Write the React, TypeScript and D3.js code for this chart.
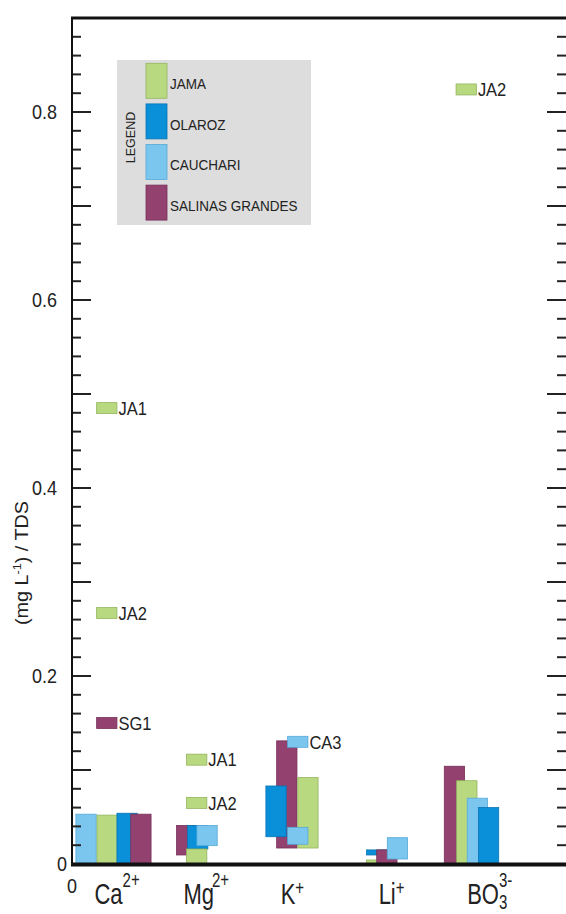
import React, { useEffect, useRef } from "react";
import * as d3 from "d3";

// ions on the x axis
const ions = ["Ca", "Mg", "K", "Li", "BO3"];
const ionLabels = [
  { base: "Ca", sub: "", sup: "2+", supRise: 17, nudge: 4 },
  { base: "Mg", sub: "", sup: "2+", supRise: 17, nudge: 0 },
  { base: "K", sub: "", sup: "+", supRise: 9, nudge: -7 },
  { base: "Li", sub: "", sup: "+", supRise: 9, nudge: -1 },
  { base: "BO", sub: "3", sup: "3-", supRise: 17, nudge: 4 },
];

// sites (legend order)
const sites = ["JA", "OL", "CA", "SG"];
const siteNames = ["JAMA", "OLAROZ", "CAUCHARI", "SALINAS GRANDES"];
const siteFill = ["#b8d97f", "#0a8fd9", "#7ac6ef", "#93426f"];
const siteStroke = ["#93b55f", "#0874b5", "#57a9d7", "#77305a"];

// floating bars: range lo..hi of (mg/L)/TDS, slot = offset from ion centre in bar widths
// listed in drawing order
const bars = [
  { ion: "Ca", site: "CA", lo: 0, hi: 0.053, slot: -1.83 },
  { ion: "Ca", site: "JA", lo: 0, hi: 0.052, slot: -0.79 },
  { ion: "Ca", site: "OL", lo: 0, hi: 0.054, slot: 0.19 },
  { ion: "Ca", site: "SG", lo: 0, hi: 0.053, slot: 0.87 },
  { ion: "Mg", site: "SG", lo: 0.0096, hi: 0.041, slot: -1.46 },
  { ion: "Mg", site: "OL", lo: 0.016, hi: 0.041, slot: -0.92 },
  { ion: "Mg", site: "JA", lo: 0, hi: 0.016, slot: -0.97 },
  { ion: "Mg", site: "CA", lo: 0.0195, hi: 0.041, slot: -0.46 },
  { ion: "K", site: "SG", lo: 0.017, hi: 0.131, slot: -1.12 },
  { ion: "K", site: "OL", lo: 0.029, hi: 0.083, slot: -1.65 },
  { ion: "K", site: "JA", lo: 0.017, hi: 0.092, slot: -0.08 },
  { ion: "K", site: "CA", lo: 0.021, hi: 0.039, slot: -0.58 },
  { ion: "Li", site: "OL", lo: 0.0096, hi: 0.015, slot: -1.28 },
  { ion: "Li", site: "JA", lo: 0, hi: 0.0043, slot: -1.28 },
  { ion: "Li", site: "SG", lo: 0.001, hi: 0.015, slot: -0.78 },
  { ion: "Li", site: "CA", lo: 0.0053, hi: 0.028, slot: -0.26 },
  { ion: "BO3", site: "SG", lo: 0, hi: 0.104, slot: -2.04 },
  { ion: "BO3", site: "JA", lo: 0, hi: 0.0886, slot: -1.43 },
  { ion: "BO3", site: "CA", lo: 0, hi: 0.07, slot: -0.91 },
  { ion: "BO3", site: "OL", lo: 0, hi: 0.06, slot: -0.36 },
];

// single samples off the bars
const outliers = [
  { ion: "Ca", site: "JA", value: 0.485, label: "JA1", slot: -0.81 },
  { ion: "Ca", site: "JA", value: 0.267, label: "JA2", slot: -0.81 },
  { ion: "Ca", site: "SG", value: 0.15, label: "SG1", slot: -0.81 },
  { ion: "Mg", site: "JA", value: 0.111, label: "JA1", slot: -0.97 },
  { ion: "Mg", site: "JA", value: 0.065, label: "JA2", slot: -0.97 },
  { ion: "K", site: "CA", value: 0.13, label: "CA3", slot: -0.58 },
  { ion: "BO3", site: "JA", value: 0.824, label: "JA2", slot: -1.46 },
];

const yLabels = [0.2, 0.4, 0.6, 0.8];

const FONT = "'Liberation Sans', Arial, Helvetica, sans-serif";
const W = 566;
const H = 914;

const App = () => {
  const svgRef = useRef(null);

  useEffect(() => {
    document.body.style.margin = "0";
    const svg = d3.select(svgRef.current);
    svg.selectAll("*").remove();

    const left = 72;
    const right = 566;
    const x = d3.scaleBand().domain(ions).range([66.5, 532.3]).padding(0);
    const y = d3.scaleLinear().domain([0, 0.9]).range([864, 18]);
    const bw = x.bandwidth() * 0.218;
    const cx = (ion: string) => (x(ion) as number) + x.bandwidth() / 2;
    const si = (s: string) => sites.indexOf(s);
    const sy = 1.15;

    // bars
    svg
      .append("g")
      .selectAll("rect")
      .data(bars)
      .join("rect")
      .attr("x", (d) => cx(d.ion) + d.slot * bw)
      .attr("y", (d) => y(d.hi))
      .attr("width", bw)
      .attr("height", (d) => y(d.lo) - y(d.hi))
      .attr("fill", (d) => siteFill[si(d.site)])
      .attr("stroke", (d) => siteStroke[si(d.site)])
      .attr("stroke-width", 0.8);

    // outliers
    const og = svg.append("g");
    og.selectAll("rect")
      .data(outliers)
      .join("rect")
      .attr("x", (d) => cx(d.ion) + d.slot * bw)
      .attr("y", (d) => y(d.value) - 5.5)
      .attr("width", bw)
      .attr("height", 11)
      .attr("fill", (d) => siteFill[si(d.site)])
      .attr("stroke", (d) => siteStroke[si(d.site)])
      .attr("stroke-width", 0.8);
    og.selectAll("text")
      .data(outliers)
      .join("text")
      .attr("transform", (d) => `translate(${cx(d.ion) + d.slot * bw + bw + 1.5},${y(d.value)}) scale(1,${sy})`)
      .attr("dy", "0.36em")
      .attr("font-family", FONT)
      .attr("font-size", 16.5)
      .attr("fill", "#222")
      .text((d) => d.label);

    // ticks
    const ticks = d3.range(1, 45).map((i) => ({ v: i * 0.02, major: i % 5 === 0 }));
    const tg = svg.append("g").attr("stroke", "#222").attr("stroke-width", 2);
    tg.selectAll("line.l")
      .data(ticks)
      .join("line")
      .attr("class", "l")
      .attr("x1", left)
      .attr("x2", (d) => left + (d.major ? 19 : 9))
      .attr("y1", (d) => y(d.v))
      .attr("y2", (d) => y(d.v));
    tg.selectAll("line.r")
      .data(ticks)
      .join("line")
      .attr("class", "r")
      .attr("x1", right)
      .attr("x2", (d) => right - (d.major ? 19 : 9))
      .attr("y1", (d) => y(d.v))
      .attr("y2", (d) => y(d.v));

    // frame
    svg.append("line").attr("x1", left).attr("x2", left).attr("y1", y(0.9) - 1).attr("y2", y(0))
      .attr("stroke", "#111").attr("stroke-width", 2);
    svg.append("line").attr("x1", left - 1).attr("x2", right).attr("y1", y(0.9)).attr("y2", y(0.9))
      .attr("stroke", "#111").attr("stroke-width", 3.2);
    svg.append("line").attr("x1", left - 1).attr("x2", right).attr("y1", y(0) + 0.5).attr("y2", y(0) + 0.5)
      .attr("stroke", "#111").attr("stroke-width", 3.8);

    // y tick labels
    const lab = svg.append("g").attr("font-family", FONT).attr("fill", "#222");
    lab.selectAll("text.y")
      .data(yLabels)
      .join("text")
      .attr("class", "y")
      .attr("transform", (d) => `translate(57,${y(d)}) scale(1,${sy})`)
      .attr("dy", "0.36em")
      .attr("text-anchor", "end")
      .attr("font-size", 18)
      .text((d) => d3.format(".1f")(d));
    lab.append("text")
      .attr("transform", `translate(67,${y(0)}) scale(1,${sy})`)
      .attr("dy", "0.36em").attr("text-anchor", "end").attr("font-size", 18).text("0");
    lab.append("text")
      .attr("transform", `translate(72,893) scale(1,${sy})`)
      .attr("text-anchor", "middle").attr("font-size", 18).text("0");

    // y axis title
    const yt = lab.append("text")
      .attr("transform", `translate(28,563) scale(1,1.1) rotate(-90)`)
      .attr("text-anchor", "middle")
      .attr("font-size", 18);
    yt.append("tspan").text("(mg L");
    yt.append("tspan").attr("font-size", 11.5).attr("dy", -7).text("-1");
    yt.append("tspan").attr("dy", 7).text(") / TDS");

    // x labels
    const sx = 1.3;
    ionLabels.forEach((d, i) => {
      const t = lab.append("text")
        .attr("transform", `translate(${cx(ions[i]) + d.nudge},904) scale(1,${sx})`)
        .attr("text-anchor", "middle")
        .attr("font-size", 22);
      t.append("tspan").text(d.base);
      if (d.sub) {
        const drop = 5;
        t.append("tspan").attr("font-size", 15).attr("dy", drop / sx).text(d.sub);
        t.append("tspan").attr("font-size", 15).attr("dx", -8.3)
          .attr("dy", (-d.supRise - drop) / sx).text(d.sup);
      } else {
        t.append("tspan").attr("font-size", 15).attr("dx", d.base === "Mg" ? -2 : 0)
          .attr("dy", -d.supRise / sx).text(d.sup);
      }
    });

    // legend
    const lg = svg.append("g").attr("font-family", FONT).attr("fill", "#222");
    lg.append("rect").attr("x", 117).attr("y", 60).attr("width", 194).attr("height", 165).attr("fill", "#dddddd");
    lg.append("text")
      .attr("transform", `translate(135,137.5) rotate(-90)`)
      .attr("text-anchor", "middle").attr("font-size", 12.5).text("LEGEND");
    siteNames.forEach((name, i) => {
      const top = 63.3 + i * 40.6;
      lg.append("rect").attr("x", 146).attr("y", top).attr("width", 21).attr("height", 35)
        .attr("fill", siteFill[i]).attr("stroke", siteStroke[i]).attr("stroke-width", 0.8);
      lg.append("text")
        .attr("transform", `translate(170,${top + 20.5}) scale(1,1.05)`)
        .attr("dy", "0.36em").attr("font-size", 13.5).text(name);
    });
  }, []);

  return <svg ref={svgRef} width={W} height={H} style={{ display: "block", background: "#fff" }}></svg>;
};

export default App;
